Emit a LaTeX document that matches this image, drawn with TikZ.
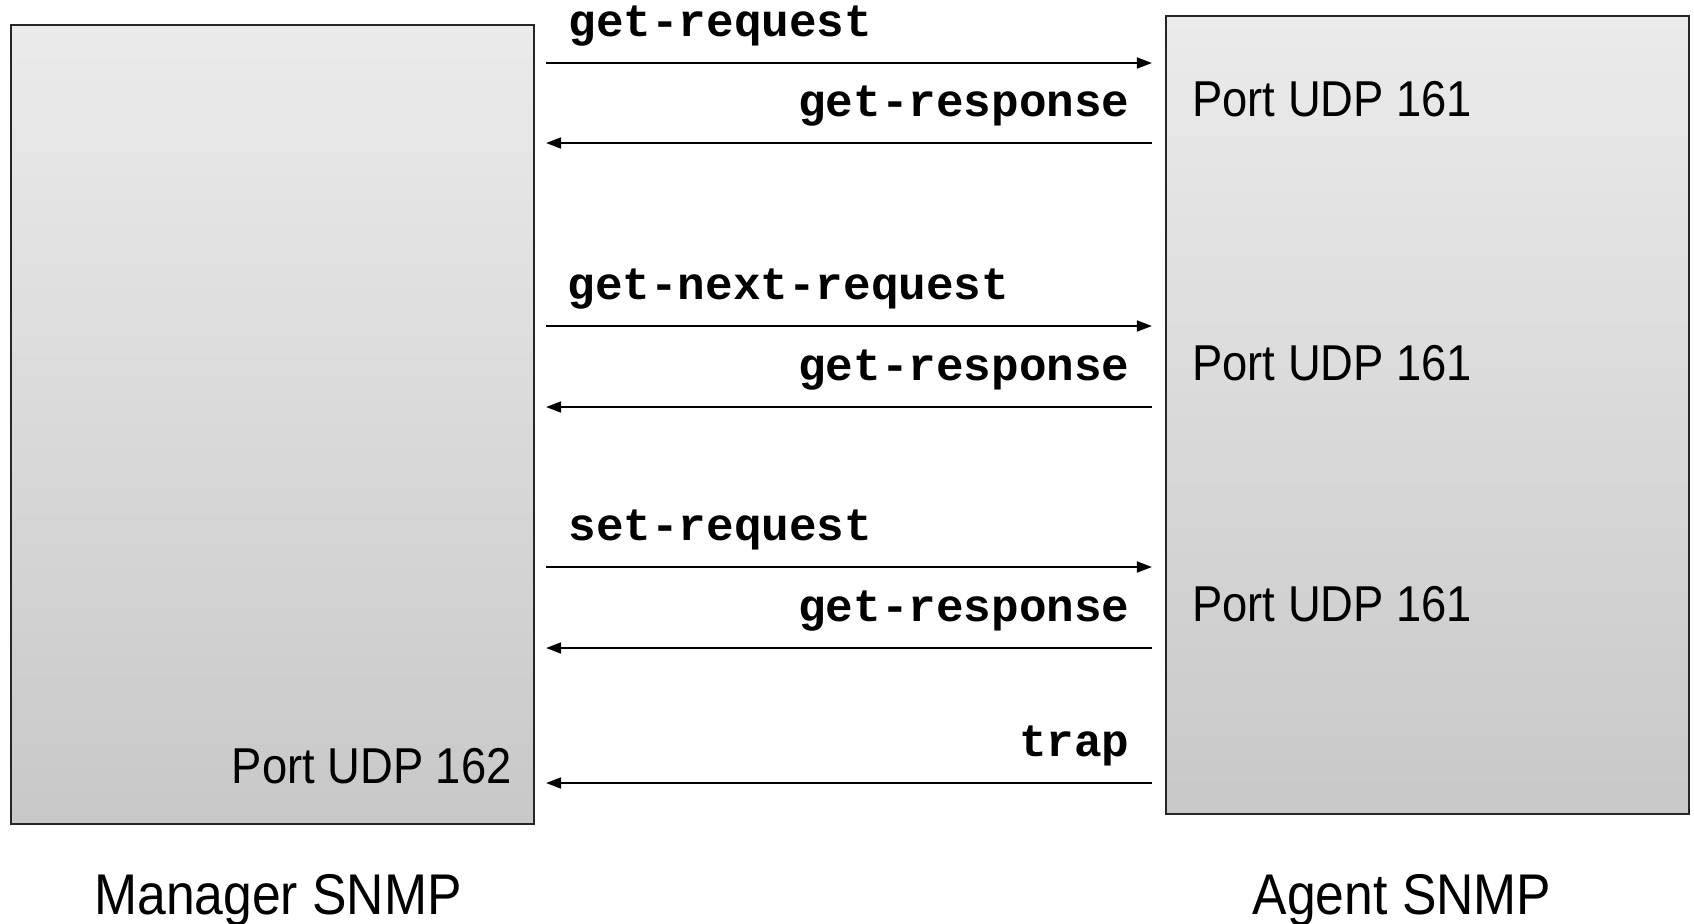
\documentclass[tikz,border=0pt]{standalone}
\usepackage{fontspec}
\setmainfont{Liberation Sans}
\newfontfamily\portfont[FakeStretch=0.9]{Liberation Sans}
\newfontfamily\msgfont{Liberation Mono}
\usetikzlibrary{arrows.meta,positioning,calc}
\definecolor{boxtop}{HTML}{EBEBEB}
\definecolor{boxbot}{HTML}{C8C8C8}

\begin{document}
\begin{tikzpicture}[
      x=0.5pt, y=0.5pt,
      >={Triangle[length=7.5pt,width=5.5pt]},
      host/.style={draw=black!85, line width=1.1pt, top color=boxtop, bottom color=boxbot,
                   minimum width=261.5pt, inner sep=0pt},
      msg/.style={inner sep=0pt, font=\fontsize{23}{23}\msgfont\bfseries},
      port/.style={inner sep=0pt, font=\fontsize{25.2}{25.2}\portfont},
      title/.style={inner sep=0pt, font=\fontsize{28.7}{28.7}\portfont},
      flow/.style={->, line width=0.9pt, shorten <=5.5pt, shorten >=6.5pt},
      back/.style={<-, line width=0.9pt, shorten <=5.5pt, shorten >=6.5pt},
    ]
    \useasboundingbox (0,0) rectangle (1694,-923);

    % --- the two hosts -----------------------------------------------------------
    \node[host, minimum height=399.5pt] (mgr) at (272.5,-424.5) {};
    \node[host, minimum height=399pt] (agt) at (1427.5,-415) {};

    \node[title, anchor=base] (mgrlbl) at ([xshift=2.75pt, yshift=-44.5pt]mgr.south) {Manager SNMP};
    \node[title, anchor=base] (agtlbl) at ([xshift=-12.75pt, yshift=-49.5pt]agt.south) {Agent SNMP};

    % --- message rows --------------------------------------------------------------
    \coordinate (y1) at (0,-63);
    \coordinate (y2) at (0,-143);
    \coordinate (y3) at (0,-326);
    \coordinate (y4) at (0,-407);
    \coordinate (y5) at (0,-567);
    \coordinate (y6) at (0,-648);
    \coordinate (y7) at (0,-783);

    \draw[flow] (y1 -| mgr.east) -- (y1 -| agt.west);
    \draw[back] (y2 -| mgr.east) -- (y2 -| agt.west);
    \draw[flow] (y3 -| mgr.east) -- (y3 -| agt.west);
    \draw[back] (y4 -| mgr.east) -- (y4 -| agt.west);
    \draw[flow] (y5 -| mgr.east) -- (y5 -| agt.west);
    \draw[back] (y6 -| mgr.east) -- (y6 -| agt.west);
    \draw[back] (y7 -| mgr.east) -- (y7 -| agt.west);

    \node[msg, anchor=base west] (req1) at ($(y1 -| mgr.east)+(33,27)$) {get-request};
    \node[msg, anchor=base east] (resp1) at ($(y2 -| agt.west)+(-35,27)$) {get-response};
    \node[msg, anchor=base west] (req2) at ($(y3 -| mgr.east)+(32,27)$) {get-next-request};
    \node[msg, anchor=base east] (resp2) at ($(y4 -| agt.west)+(-35,27)$) {get-response};
    \node[msg, anchor=base west] (req3) at ($(y5 -| mgr.east)+(33,27)$) {set-request};
    \node[msg, anchor=base east] (resp3) at ($(y6 -| agt.west)+(-35,27)$) {get-response};
    \node[msg, anchor=base east] (trap) at ($(y7 -| agt.west)+(-35,27)$) {trap};

    % --- ports ---------------------------------------------------------------------
    \node[port, anchor=base west] (p1) at ([xshift=13.5pt]resp1.base -| agt.west) {Port UDP 161};
    \node[port, anchor=base west] (p2) at ([xshift=13.5pt]resp2.base -| agt.west) {Port UDP 161};
    \node[port, anchor=base west] (p3) at ([xshift=13.5pt]resp3.base -| agt.west) {Port UDP 161};
    \node[port, anchor=base east] (p4) at ([xshift=-11.5pt, yshift=21pt]mgr.south east) {Port UDP 162};
  \end{tikzpicture}
\end{document}
